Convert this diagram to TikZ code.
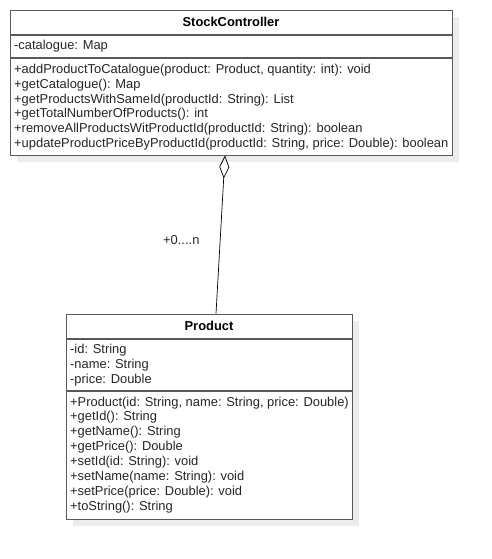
\documentclass[tikz,border=0pt]{standalone}
\usepackage{fontspec}
\setmainfont{Liberation Sans}
\usetikzlibrary{arrows.meta}

\tikzset{
 classbox/.style={draw=black!65, line width=1.1pt, fill=white, anchor=north west, inner sep=0pt},
 shadowbox/.style={fill=black!7, anchor=north west, inner sep=0pt},
 divider/.style={draw=black!65, line width=1.1pt},
 member/.style={anchor=west, inner sep=0pt, text=black!85, font=\fontsize{12.9}{15}\selectfont},
 classname/.style={inner sep=0pt, font=\bfseries\fontsize{12.9}{15}\selectfont},
 aggr/.style={black, line width=0.7pt, {Diamond[open, length=23pt, width=10pt]}-},
}

\begin{document}
\begin{tikzpicture}[x=1pt, y=-1pt]
 \useasboundingbox[fill=white] (0,0) rectangle (492,559);

 % StockController
 \node[shadowbox, minimum width=442pt, minimum height=145pt] (stockshadow) at (17,17) {};
 \node[classbox, minimum width=442pt, minimum height=145pt] (stock) at (10,10) {};
 \node[classname] (stocktitle) at (231,22) {StockController};
 \draw[divider] (10,35) -- (452,35);
 \draw[divider] (10,58) -- (452,58);
 \node[member] (catalogue) at (14,46) {-catalogue: Map};
 \node[member] (m1) at (14,70) {+addProductToCatalogue(product: Product, quantity: int): void};
 \node[member] (m2) at (14,85) {+getCatalogue(): Map};
 \node[member] (m3) at (14,100) {+getProductsWithSameId(productId: String): List};
 \node[member] (m4) at (14,114) {+getTotalNumberOfProducts(): int};
 \node[member] (m5) at (14,129) {+removeAllProductsWitProductId(productId: String): boolean};
 \node[member] (m6) at (14,144) {+updateProductPriceByProductId(productId: String, price: Double): boolean};

 % Product
 \node[shadowbox, minimum width=286pt, minimum height=205pt] (prodshadow) at (73,321) {};
 \node[classbox, minimum width=286pt, minimum height=205pt] (prod) at (66,314) {};
 \node[classname] (prodtitle) at (209,326) {Product};
 \draw[divider] (66,339) -- (352,339);
 \draw[divider] (66,391) -- (352,391);
 \node[member] (a1) at (70,350) {-id: String};
 \node[member] (a2) at (70,365) {-name: String};
 \node[member] (a3) at (70,380) {-price: Double};
 \node[member] (p1) at (70,403) {+Product(id: String, name: String, price: Double)};
 \node[member] (p2) at (70,417) {+getId(): String};
 \node[member] (p3) at (70,432) {+getName(): String};
 \node[member] (p4) at (70,447) {+getPrice(): Double};
 \node[member] (p5) at (70,462) {+setId(id: String): void};
 \node[member] (p6) at (70,477) {+setName(name: String): void};
 \node[member] (p7) at (70,492) {+setPrice(price: Double): void};
 \node[member] (p8) at (70,507) {+toString(): String};

 % aggregation
 \coordinate (stockend) at (225,155.5);
 \coordinate (prodend) at (216,313.5);
 \draw[aggr] (stockend) -- (prodend);
 \node[member] (mult) at (163,240) {+0....n};

\end{tikzpicture}
\end{document}
